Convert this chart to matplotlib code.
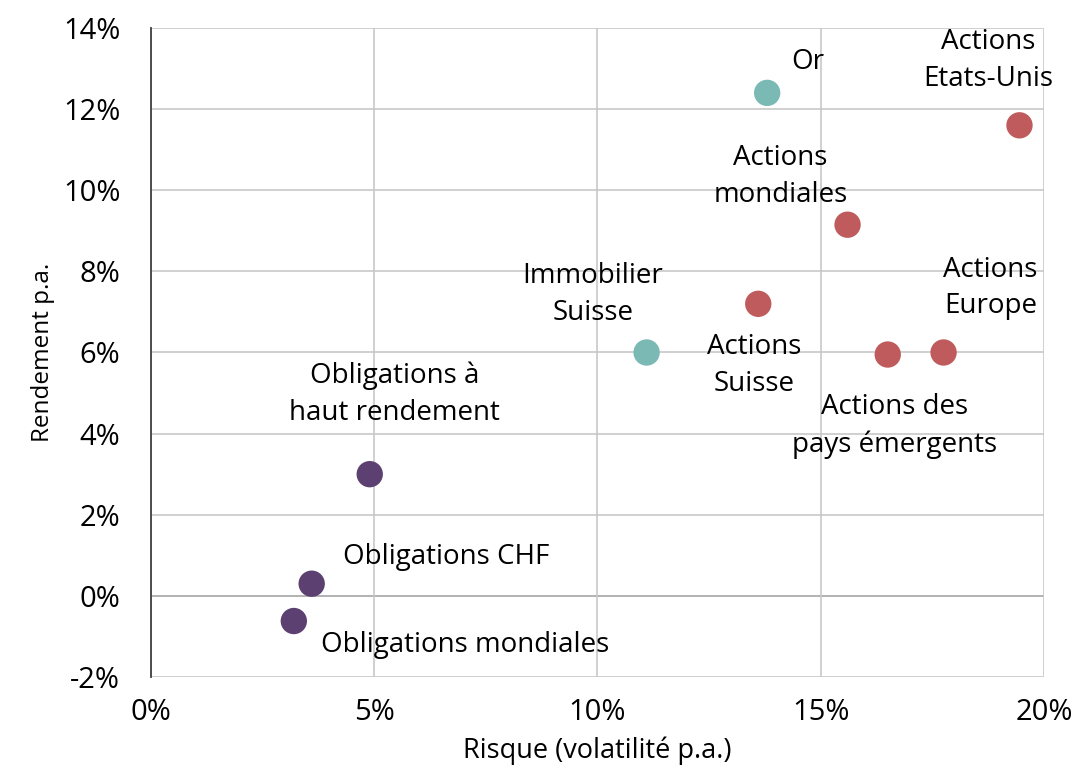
import matplotlib.pyplot as plt
from matplotlib.ticker import FuncFormatter

plt.rcParams['font.family'] = ['Open Sans', 'DejaVu Sans']

names = ["Or", "Actions\nEtats-Unis", "Actions\nmondiales", "Actions\nSuisse",
         "Immobilier\nSuisse", "Actions des\npays émergents", "Actions\nEurope",
         "Obligations à\nhaut rendement", "Obligations CHF", "Obligations mondiales"]
risk = [13.8, 19.45, 15.6, 13.6, 11.1, 16.5, 17.75, 4.9, 3.6, 3.2]
ret = [12.4, 11.6, 9.15, 7.2, 6.0, 5.95, 6.0, 3.0, 0.3, -0.62]
groups = ["alt", "eq", "eq", "eq", "alt", "eq", "eq", "bond", "bond", "bond"]

# label anchor positions (data coords) and alignment
label_x = [14.7, 18.75, 14.1, 13.5, 9.9, 16.65, 18.8, 5.45, 4.3, 3.8]
label_y = [13.17, 13.2, 10.33, 5.67, 7.42, 4.19, 7.59, 4.98, 0.96, -1.21]
label_ha = ["center"] * 8 + ["left", "left"]

colors = {"alt": "#7bb9b5", "eq": "#c05b5d", "bond": "#5d4072"}

fig = plt.figure(figsize=(10.78, 7.77), dpi=100)
ax = fig.add_axes([0.140, 0.1287, 0.8285, 0.8353])

ax.scatter(risk, ret, s=360, c=[colors[g] for g in groups], zorder=3, linewidths=0)

for name, x, y, ha in zip(names, label_x, label_y, label_ha):
    ax.text(x, y, name, ha=ha, va="center", fontsize=20, linespacing=1.42, zorder=4)

ax.set_xlim(0, 20)
ax.set_ylim(-2, 14)
ax.set_xticks([0, 5, 10, 15, 20])
ax.set_yticks(range(-2, 15, 2))
ax.xaxis.set_major_formatter(FuncFormatter(lambda v, p: f"{v:.0f}%"))
ax.yaxis.set_major_formatter(FuncFormatter(lambda v, p: f"{v:.0f}%"))
ax.tick_params(length=0, labelsize=21)
ax.tick_params(axis="y", pad=22)
ax.tick_params(axis="x", pad=15)

ax.grid(True, color="#c8c8c8", linewidth=1.2, zorder=0)
ax.axhline(0, color="#404040", linewidth=1.3, zorder=1)
for s in ["top", "right", "bottom"]:
    ax.spines[s].set_visible(False)
ax.spines["left"].set_color("#404040")
ax.spines["left"].set_linewidth(1.3)

ax.set_xlabel("Risque (volatilité p.a.)", fontsize=19.5, labelpad=7)
ax.set_ylabel("Rendement p.a.", fontsize=17.5, labelpad=6)

fig.savefig("out.png", dpi=100)
